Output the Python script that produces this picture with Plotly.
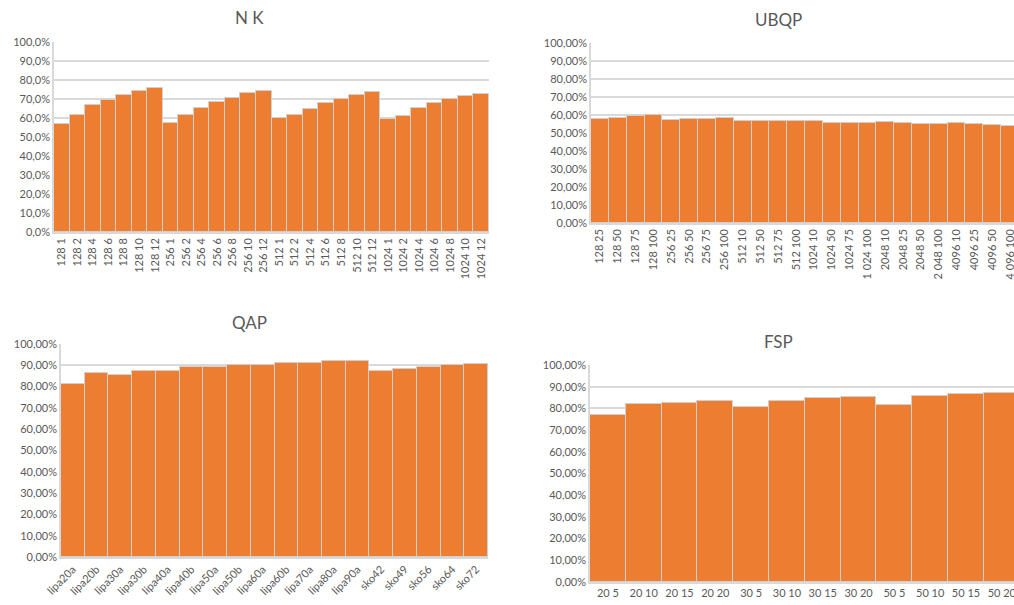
import plotly.graph_objects as go

# ---- data ----
nk_labels = ["128 1", "128 2", "128 4", "128 6", "128 8", "128 10", "128 12",
             "256 1", "256 2", "256 4", "256 6", "256 8", "256 10", "256 12",
             "512 1", "512 2", "512 4", "512 6", "512 8", "512 10", "512 12",
             "1024 1", "1024 2", "1024 4", "1024 6", "1024 8", "1024 10", "1024 12"]
nk_values = [56.6, 61.5, 66.7, 69.5, 72.1, 74.2, 75.8,
             57.3, 61.5, 65.3, 68.5, 70.4, 73.0, 74.2,
             59.9, 61.5, 64.8, 67.9, 70.0, 72.0, 73.7,
             59.7, 61.1, 65.3, 67.9, 69.9, 71.4, 72.8]

ubqp_labels = ["128 25", "128 50", "128 75", "128 100", "256 25", "256 50", "256 75", "256 100",
               "512 10", "512 50", "512 75", "512 100", "1024 10", "1024 50", "1024 75", "1 024 100",
               "2048 10", "2048 25", "2048 50", "2 048 100", "4096 10", "4096 25", "4096 50", "4 096 100"]
ubqp_values = [57.8, 58.3, 59.6, 60.2, 57.4, 57.6, 57.6, 58.5,
               56.5, 56.9, 56.5, 56.9, 56.7, 55.7, 55.7, 55.6,
               56.1, 55.6, 55.0, 55.0, 55.4, 54.8, 54.4, 54.1]

qap_labels = ["lipa20a", "lipa20b", "lipa30a", "lipa30b", "lipa40a", "lipa40b", "lipa50a", "lipa50b",
              "lipa60a", "lipa60b", "lipa70a", "lipa80a", "lipa90a", "sko42", "sko49", "sko56", "sko64", "sko72"]
qap_values = [81.1, 86.6, 85.6, 87.5, 87.5, 89.2, 89.2, 90.0,
              90.3, 91.25, 91.25, 91.9, 92.2, 87.5, 88.4, 89.2, 90.0, 90.5]

fsp_labels = ["20 5", "20 10", "20 15", "20 20", "30 5", "30 10", "30 15", "30 20",
              "50 5", "50 10", "50 15", "50 20"]
fsp_values = [76.8, 81.9, 82.6, 83.4, 80.6, 83.4, 84.8, 85.3, 81.6, 85.6, 86.6, 87.2]

# ---- styling ----
W, H = 1014, 605
ORANGE = "#ED7D31"
GRID = "#D9D9D9"
TXT = "#595959"
FONT = "Lato"


def px(x0, x1):
    return [x0 / W, x1 / W]


def py(ytop, ybot):
    return [1 - ybot / H, 1 - ytop / H]


fig = go.Figure()

panels = [
    # labels, values, axis id, x domain, y domain, tickformat, tickangle, xrange
    (nk_labels, nk_values, "", px(54, 489), py(42, 232), ".1%", -90, None),
    (ubqp_labels, ubqp_values, "2", px(591, 1014), py(43, 223), ".2%", -90, [-0.5, 23.22]),
    (qap_labels, qap_values, "3", px(61, 488), py(344, 557), ".2%", -45, None),
    (fsp_labels, fsp_values, "4", px(590, 1014), py(365, 582), ".2%", 0, [-0.5, 11.34]),
]

for labels, values, ax, xd, yd, fmt, ang, xr in panels:
    fig.add_trace(go.Bar(
        x=labels, y=[v / 100 for v in values],
        xaxis="x" + ax, yaxis="y" + ax,
        marker=dict(color=ORANGE, line=dict(color="#D0D0D0", width=1)),
        showlegend=False, hoverinfo="x+y",
    ))
    xa = dict(domain=xd, anchor="y" + ax, type="category", showgrid=False,
              showline=True, linecolor=GRID, linewidth=1.5, ticks="",
              tickangle=ang, tickfont=dict(family=FONT, size=11, color=TXT),
              automargin=False)
    if xr is not None:
        xa["range"] = xr
    ya = dict(domain=yd, anchor="x" + ax, range=[0, 1], dtick=0.1, tickformat=fmt,
              showgrid=True, gridcolor=GRID, gridwidth=1.5,
              showline=True, linecolor=GRID, linewidth=1.5, ticks="",
              zeroline=False, tickfont=dict(family=FONT, size=11, color=TXT),
              automargin=False)
    fig.layout["xaxis" + ax] = xa
    fig.layout["yaxis" + ax] = ya

titles = [("N K", 249, 17), ("UBQP", 778, 19), ("QAP", 249, 322), ("FSP", 778, 341)]
for t, x, y in titles:
    fig.add_annotation(text=t, x=x / W, y=1 - y / H, xref="paper", yref="paper",
                       showarrow=False, xanchor="center", yanchor="middle",
                       font=dict(family=FONT, size=17, color=TXT))

fig.update_layout(
    width=W, height=H,
    margin=dict(l=0, r=0, t=0, b=0),
    paper_bgcolor="white", plot_bgcolor="white",
    bargap=0,
    separators=", ",
    font=dict(family=FONT, color=TXT),
)

fig.write_html("out.html",
               config={"displayModeBar": False},
               post_script="document.body.style.margin='0';document.body.style.overflow='hidden';")
